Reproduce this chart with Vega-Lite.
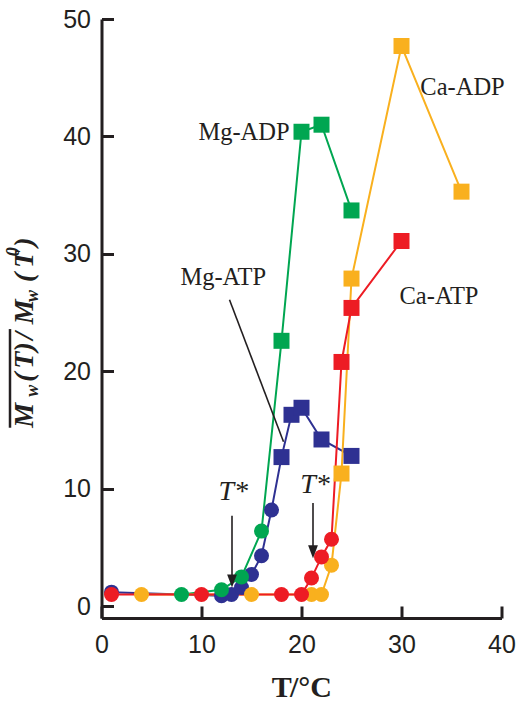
{
  "$schema": "https://vega.github.io/schema/vega-lite/v6.json",
  "width": 400,
  "height": 599,
  "autosize": {"type": "none"},
  "padding": {"left": 101.5, "top": 19, "right": 16.5, "bottom": 84},
  "background": "white",
  "config": {
    "view": {"stroke": null},
    "axis": {
      "domainColor": "#231f20",
      "domainWidth": 3,
      "tickColor": "#231f20",
      "tickWidth": 3,
      "tickSize": -12,
      "labelFont": "Liberation Sans",
      "labelFontSize": 25,
      "labelColor": "#231f20",
      "grid": false
    }
  },
  "datasets": {
    "series": [
      {"T": 1, "ratio": 1.2, "sample": "Mg-ATP", "phase": "low"},
      {"T": 12, "ratio": 0.9, "sample": "Mg-ATP", "phase": "low"},
      {"T": 13, "ratio": 1.0, "sample": "Mg-ATP", "phase": "low"},
      {"T": 14, "ratio": 1.6, "sample": "Mg-ATP", "phase": "low"},
      {"T": 15, "ratio": 2.7, "sample": "Mg-ATP", "phase": "low"},
      {"T": 16, "ratio": 4.3, "sample": "Mg-ATP", "phase": "low"},
      {"T": 17, "ratio": 8.2, "sample": "Mg-ATP", "phase": "low"},
      {"T": 18, "ratio": 12.7, "sample": "Mg-ATP", "phase": "high"},
      {"T": 19, "ratio": 16.3, "sample": "Mg-ATP", "phase": "high"},
      {"T": 20, "ratio": 16.9, "sample": "Mg-ATP", "phase": "high"},
      {"T": 22, "ratio": 14.2, "sample": "Mg-ATP", "phase": "high"},
      {"T": 25, "ratio": 12.8, "sample": "Mg-ATP", "phase": "high"},
      {"T": 8, "ratio": 1.0, "sample": "Mg-ADP", "phase": "low"},
      {"T": 12, "ratio": 1.4, "sample": "Mg-ADP", "phase": "low"},
      {"T": 14, "ratio": 2.5, "sample": "Mg-ADP", "phase": "low"},
      {"T": 16, "ratio": 6.4, "sample": "Mg-ADP", "phase": "low"},
      {"T": 18, "ratio": 22.6, "sample": "Mg-ADP", "phase": "high"},
      {"T": 20, "ratio": 40.4, "sample": "Mg-ADP", "phase": "high"},
      {"T": 22, "ratio": 41.0, "sample": "Mg-ADP", "phase": "high"},
      {"T": 25, "ratio": 33.7, "sample": "Mg-ADP", "phase": "high"},
      {"T": 4, "ratio": 1.0, "sample": "Ca-ADP", "phase": "low"},
      {"T": 15, "ratio": 1.0, "sample": "Ca-ADP", "phase": "low"},
      {"T": 21, "ratio": 1.0, "sample": "Ca-ADP", "phase": "low"},
      {"T": 22, "ratio": 1.0, "sample": "Ca-ADP", "phase": "low"},
      {"T": 23, "ratio": 3.5, "sample": "Ca-ADP", "phase": "low"},
      {"T": 24, "ratio": 11.3, "sample": "Ca-ADP", "phase": "high"},
      {"T": 25, "ratio": 27.9, "sample": "Ca-ADP", "phase": "high"},
      {"T": 30, "ratio": 47.7, "sample": "Ca-ADP", "phase": "high"},
      {"T": 36, "ratio": 35.3, "sample": "Ca-ADP", "phase": "high"},
      {"T": 1, "ratio": 1.0, "sample": "Ca-ATP", "phase": "low"},
      {"T": 10, "ratio": 1.0, "sample": "Ca-ATP", "phase": "low"},
      {"T": 18, "ratio": 1.0, "sample": "Ca-ATP", "phase": "low"},
      {"T": 20, "ratio": 1.0, "sample": "Ca-ATP", "phase": "low"},
      {"T": 21, "ratio": 2.4, "sample": "Ca-ATP", "phase": "low"},
      {"T": 22, "ratio": 4.2, "sample": "Ca-ATP", "phase": "low"},
      {"T": 23, "ratio": 5.7, "sample": "Ca-ATP", "phase": "low"},
      {"T": 24, "ratio": 20.8, "sample": "Ca-ATP", "phase": "high"},
      {"T": 25, "ratio": 25.4, "sample": "Ca-ATP", "phase": "high"},
      {"T": 30, "ratio": 31.1, "sample": "Ca-ATP", "phase": "high"}
    ],
    "labels": [
      {"text": "Mg-ATP", "T": 12.18, "ratio": 27.93},
      {"text": "Mg-ADP", "T": 14.25, "ratio": 40.3},
      {"text": "Ca-ADP", "T": 36.1, "ratio": 44.1},
      {"text": "Ca-ATP", "T": 33.75, "ratio": 26.36}
    ],
    "tstar": [
      {"text": "T*", "T": 13.18, "ratio": 9.76},
      {"text": "T*", "T": 21.35, "ratio": 10.33}
    ],
    "pointers": [
      {"T": 12.8, "ratio": 26.1, "T2": 18.2, "ratio2": 14.0},
      {"T": 13.05, "ratio": 7.7, "T2": 13.05, "ratio2": 2.15},
      {"T": 21.15, "ratio": 8.8, "T2": 21.15, "ratio2": 4.65}
    ],
    "heads": [
      {"T": 13.05, "ratio": 2.15},
      {"T": 21.15, "ratio": 4.65}
    ],
    "ytitle_big": [
      {"g": "M", "T": -6.85, "ratio": 15.2},
      {"g": "(", "T": -6.85, "ratio": 19.12},
      {"g": "T", "T": -6.85, "ratio": 20.23},
      {"g": ")", "T": -6.85, "ratio": 21.68},
      {"g": "/", "T": -6.85, "ratio": 22.7},
      {"g": "M", "T": -6.85, "ratio": 24.0},
      {"g": "(", "T": -6.85, "ratio": 27.6},
      {"g": "T", "T": -6.85, "ratio": 28.8},
      {"g": ")", "T": -6.85, "ratio": 30.6}
    ],
    "ytitle_small": [
      {"g": "w", "T": -6.4, "ratio": 17.84},
      {"g": "w", "T": -6.4, "ratio": 25.9},
      {"g": "0", "T": -8.3, "ratio": 29.8}
    ],
    "ytitle_bar": [
      {"T": -9.15, "ratio": 15.2, "ratio2": 23.6}
    ],
    "xtitle": [
      {"g": "T", "T": 17.02, "ratio": -7.72, "style": "italic"},
      {"g": "/°C", "T": 18.85, "ratio": -7.72, "style": "normal"}
    ]
  },
  "layer": [
    {
      "data": {"name": "series"},
      "mark": {"type": "line", "strokeWidth": 2},
      "encoding": {
        "x": {"field": "T", "type": "quantitative", "title": null, "scale": {"domain": [0, 40], "nice": false, "zero": false},
          "axis": {"values": [0, 10, 20, 30, 40], "labelPadding": 26, "labelFlush": false}},
        "y": {"field": "ratio", "type": "quantitative", "title": null, "scale": {"domain": [-1, 50], "nice": false, "zero": false},
          "axis": {"values": [0, 10, 20, 30, 40, 50], "labelPadding": 23}},
        "color": {"field": "sample", "type": "nominal", "legend": null,
          "scale": {"domain": ["Mg-ATP", "Mg-ADP", "Ca-ADP", "Ca-ATP"], "range": ["#2e3192", "#00a651", "#f9b01e", "#ed1c24"]}},
        "detail": {"field": "sample"},
        "order": {"field": "T", "type": "quantitative"}
      }
    },
    {
      "data": {"name": "series"},
      "mark": {"type": "point", "filled": true, "opacity": 1},
      "encoding": {
        "x": {"field": "T", "type": "quantitative", "title": null},
        "y": {"field": "ratio", "type": "quantitative", "title": null},
        "color": {"field": "sample", "type": "nominal", "legend": null,
          "scale": {"domain": ["Mg-ATP", "Mg-ADP", "Ca-ADP", "Ca-ATP"], "range": ["#2e3192", "#00a651", "#f9b01e", "#ed1c24"]}},
        "shape": {"field": "phase", "type": "nominal", "legend": null,
          "scale": {"domain": ["low", "high"], "range": ["circle", "square"]}},
        "size": {"field": "phase", "type": "nominal", "legend": null,
          "scale": {"domain": ["low", "high"], "range": [225, 256]}}
      }
    },
    {
      "data": {"name": "pointers"},
      "mark": {"type": "rule", "color": "#231f20", "strokeWidth": 1.6},
      "encoding": {
        "x": {"field": "T", "type": "quantitative", "title": null},
        "y": {"field": "ratio", "type": "quantitative", "title": null},
        "x2": {"field": "T2"},
        "y2": {"field": "ratio2"}
      }
    },
    {
      "data": {"name": "heads"},
      "mark": {"type": "point", "shape": "M-0.75,-1L0.75,-1L0,1Z", "size": 169, "filled": true, "color": "#231f20", "opacity": 1},
      "encoding": {
        "x": {"field": "T", "type": "quantitative", "title": null},
        "y": {"field": "ratio", "type": "quantitative", "title": null}
      }
    },
    {
      "data": {"name": "labels"},
      "mark": {"type": "text", "font": "Liberation Serif", "fontSize": 24.5, "color": "#231f20", "align": "center", "baseline": "middle"},
      "encoding": {
        "x": {"field": "T", "type": "quantitative", "title": null},
        "y": {"field": "ratio", "type": "quantitative", "title": null},
        "text": {"field": "text"}
      }
    },
    {
      "data": {"name": "tstar"},
      "mark": {"type": "text", "font": "Liberation Serif", "fontSize": 28, "fontStyle": "italic", "color": "#231f20", "align": "center", "baseline": "middle"},
      "encoding": {
        "x": {"field": "T", "type": "quantitative", "title": null},
        "y": {"field": "ratio", "type": "quantitative", "title": null},
        "text": {"field": "text"}
      }
    },
    {
      "data": {"name": "ytitle_big"},
      "mark": {"type": "text", "font": "Liberation Serif", "fontSize": 28, "fontStyle": "italic", "fontWeight": "bold", "color": "#231f20", "align": "left", "baseline": "alphabetic", "angle": 270},
      "encoding": {
        "x": {"field": "T", "type": "quantitative", "title": null},
        "y": {"field": "ratio", "type": "quantitative", "title": null},
        "text": {"field": "g"}
      }
    },
    {
      "data": {"name": "ytitle_small"},
      "mark": {"type": "text", "font": "Liberation Serif", "fontSize": 18, "fontStyle": "italic", "fontWeight": "bold", "color": "#231f20", "align": "left", "baseline": "alphabetic", "angle": 270},
      "encoding": {
        "x": {"field": "T", "type": "quantitative", "title": null},
        "y": {"field": "ratio", "type": "quantitative", "title": null},
        "text": {"field": "g"}
      }
    },
    {
      "data": {"name": "ytitle_bar"},
      "mark": {"type": "rule", "color": "#231f20", "strokeWidth": 2.5},
      "encoding": {
        "x": {"field": "T", "type": "quantitative", "title": null},
        "y": {"field": "ratio", "type": "quantitative", "title": null},
        "y2": {"field": "ratio2"}
      }
    },
    {
      "data": {"name": "xtitle"},
      "mark": {"type": "text", "font": "Liberation Serif", "fontSize": 30, "fontWeight": "bold", "color": "#231f20", "align": "left", "baseline": "alphabetic"},
      "encoding": {
        "x": {"field": "T", "type": "quantitative", "title": null},
        "y": {"field": "ratio", "type": "quantitative", "title": null},
        "text": {"field": "g"},
        "fontStyle": {"field": "style", "type": "nominal", "scale": null}
      }
    }
  ]
}
